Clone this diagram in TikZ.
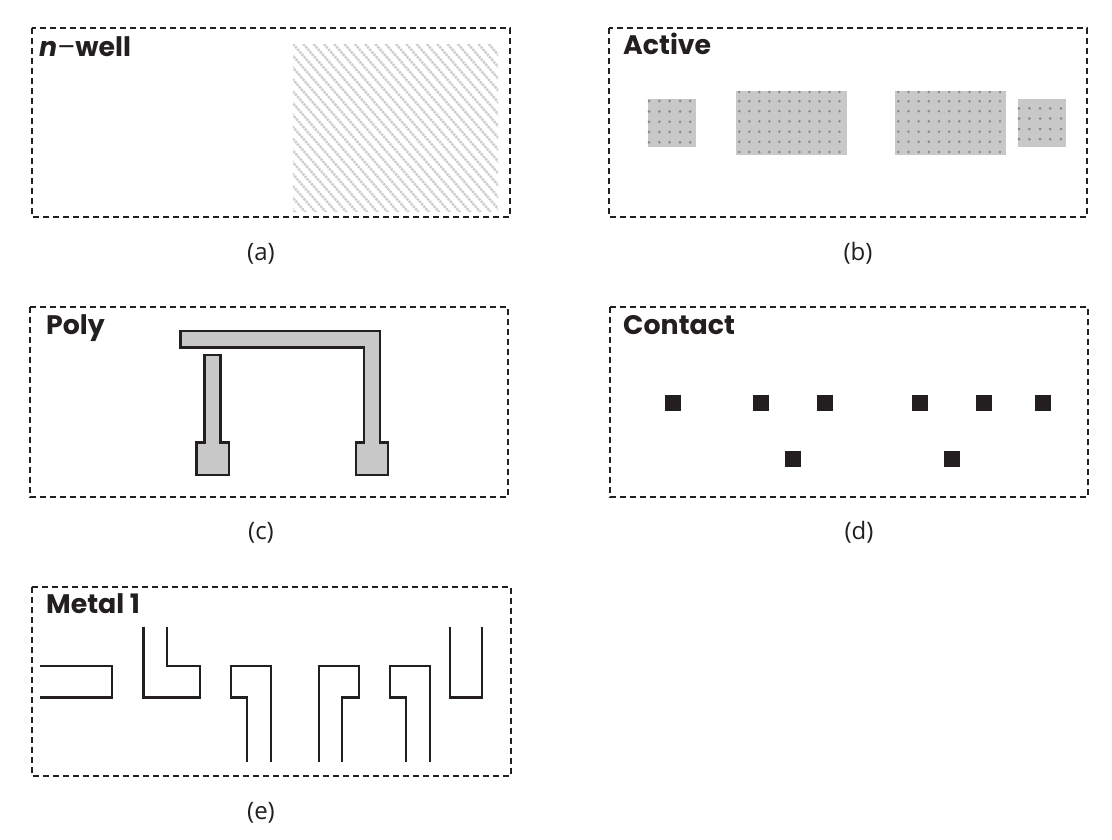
\documentclass[tikz,border=0pt]{standalone}
\usepackage{fontspec}
\setmainfont{Poppins}
\newfontfamily\capfont{Open Sans}
\definecolor{ink}{HTML}{231F20}
\definecolor{fillgray}{HTML}{C8C8C8}
\definecolor{dotgray}{HTML}{8A8A8A}
\definecolor{hatchgray}{HTML}{CDCDCD}
\tikzset{
  frame/.style={draw=ink,line width=2.8pt,dash pattern=on 6.2pt off 3.8pt},
  title/.style={anchor=base west,inner sep=0pt,text=ink,font=\fontsize{26.8}{26.8}\selectfont\bfseries},
  caption/.style={anchor=base,inner sep=0pt,text=ink,font=\capfont\fontsize{24}{24}\selectfont},
  active/.style={fill=fillgray,draw=none},
  adot/.style={fill=dotgray,draw=none},
  poly/.style={fill=fillgray,draw=ink,line width=2.4pt,line join=miter},
  metal/.style={draw=ink,line width=2.2pt,line join=miter},
  contact/.style={fill=ink,draw=none},
  hatch/.style={draw=hatchgray,line width=2.4pt,dash pattern=on 2.4pt off 0.9pt}
}
\begin{document}
\begin{tikzpicture}[x=1pt,y=-1pt]
\useasboundingbox (0,0) rectangle (1112,839);
\fill[white] (0,0) rectangle (1112,839);
% n-well hatch
\begin{scope}
\clip (293,44) rectangle (498,211);
\foreach \k in {-24,...,21}
  \draw[hatch] ({293+\k*10.3},44) -- ({293+\k*10.3+200},{44+200*1.15});
\end{scope}
% frames
\draw[frame] (32,28) rectangle (510,217);
\draw[frame] (609,28) rectangle (1087,217);
\draw[frame] (30,307) rectangle (508,497);
\draw[frame] (610,307) rectangle (1088,497);
\draw[frame] (32,587) rectangle (511,776);
% titles
\node[title] (t1) at (39,56.5) {\textit{n}{\mdseries –}well};
\node[title] (t2) at (623,54.5) {Active};
\node[title] (t3) at (46,334.5) {Poly};
\node[title] (t4) at (623,334.5) {Contact};
\node[title] (t5) at (46,613.5) {Metal 1};
% captions
\node[caption] (c1) at (261,260) {(a)};
\node[caption] (c2) at (858,260) {(b)};
\node[caption] (c3) at (261,539) {(c)};
\node[caption] (c4) at (859,539) {(d)};
\node[caption] (c5) at (261,819) {(e)};
% active
\fill[active] (648,99) rectangle (696,147);
\fill[active] (736,91) rectangle (847,155);
\fill[active] (895,91) rectangle (1006,155);
\fill[active] (1018,99) rectangle (1066,147);
\foreach \x in {649,659.3,669.6,680,690.2}
  \foreach \y in {101,111.5,121.8,132,142.3}
    \fill[adot] (\x,\y) circle (1.5);
\foreach \i in {0,...,10}
  \foreach \y in {92,101.2,111.2,121.3,131.7,141.8,152}{
    \fill[adot] ({739.3+\i*10.02},\y) circle (1.4);
    \fill[adot] ({898.3+\i*10.17},\y) circle (1.4);
  }
\foreach \x in {1019,1029.4,1040,1050.2,1061}
  \foreach \y in {108.3,118.5,129,139.2}
    \fill[adot] (\x,\y) circle (1.5);
% poly
\draw[poly] (180.5,331) -- (380,331) -- (380,442.3) -- (388,442.3) -- (388,475) -- (356,475) -- (356,442.3) -- (364,442.3) -- (364,347.3) -- (180.5,347.3) -- cycle;
\draw[poly] (204.3,355) -- (220.5,355) -- (220.5,442.3) -- (229,442.3) -- (229,475) -- (196.5,475) -- (196.5,442.3) -- (204.3,442.3) -- cycle;
% contacts
\foreach \x/\y in {665/395,753/395,817/395,912/395,976/395,1035/395,785/451,944/451}
  \fill[contact] (\x,\y) rectangle ++(16,16);
% metal
\draw[metal] (40,665.7) -- (112,665.7) -- (112,697.5) -- (40,697.5);
\draw[metal] (143.5,626.7) -- (143.5,697.5) -- (200,697.5) -- (200,665.7) -- (167,665.7) -- (167,626.7);
\draw[metal] (247.3,761.7) -- (247.3,697.5) -- (230.7,697.5) -- (230.7,665.7) -- (271,665.7) -- (271,761.7);
\draw[metal] (318.7,761.7) -- (318.7,665.7) -- (359,665.7) -- (359,697.5) -- (342.3,697.5) -- (342.3,761.7);
\draw[metal] (406.3,761.7) -- (406.3,697.5) -- (390,697.5) -- (390,665.7) -- (430,665.7) -- (430,761.7);
\draw[metal] (450,626.7) -- (450,697.5) -- (482,697.5) -- (482,626.7);
\end{tikzpicture}
\end{document}
